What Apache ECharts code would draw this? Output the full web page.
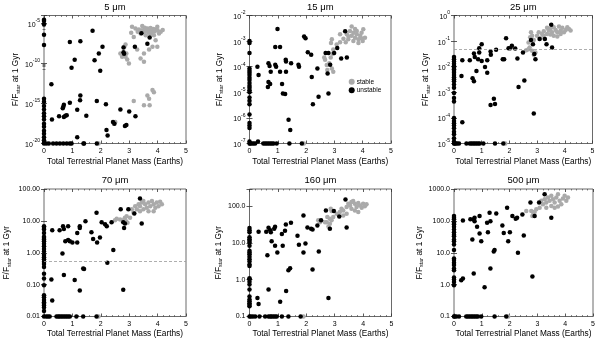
<!DOCTYPE html>
<html>
<head>
<meta charset="utf-8">
<script src="https://cdn.jsdelivr.net/npm/echarts@6/dist/echarts.min.js"></script>
<style>
html,body{margin:0;padding:0;background:#fff;}
#c{width:600px;height:339px;}
</style>
</head>
<body>
<div id="c"></div>
<script>
// ---------------- data ----------------
const titles = ['5 \u03bcm', '15 \u03bcm', '25 \u03bcm', '70 \u03bcm', '160 \u03bcm', '500 \u03bcm'];
const xName = 'Total Terrestrial Planet Mass (Earths)';
const seriesNames = ['stable', 'unstable'];
const limit25 = 0.05;   // dashed line, 25 um panel
const limit70 = 0.55;   // dashed line, 70 um panel

// 5 um
const unstable5 = [
[0,3e-5],[0,2e-5],[0,8e-6],[0,4e-7],[0,2e-8],
[0,4e-15],[0,1.6e-15],[0,5e-16],[0,1.8e-16],[0,6e-17],[0,2.5e-17],[0,1e-17],[0,3e-18],[0,1.2e-18],[0,4e-19],[0,1.6e-19],[0,6e-20],[0,2.5e-20],[0,1.2e-20],[0,1e-20],
[0.91,5e-8],[1.08,3e-10],[0.97,3e-11],[1.28,6e-8],[1.71,1.2e-6],[1.78,2.5e-10],[1.93,1.8e-9],[2.06,1.2e-8],[1.98,1.2e-11],[2.8,1e-8],[2.8,2.5e-9],[2.82,1.6e-9],[3.2,1.2e-8],[3.43,6e-7],[3.72,1.8e-7],[3.64,3e-8],
[0.26,2.5e-13],[0.28,1e-17],[0.53,2.5e-17],[0.68,4e-16],[0.7,7e-16],[0.66,2.5e-16],[0.91,1.2e-15],[0.75,3e-17],[0.8,3.5e-17],[0.7,2e-17],[1.17,1.6e-16],[1.28,1e-14],[1.27,2.5e-15],[1.49,3e-17],[1.17,6e-20],[1.86,2e-15],[2.18,8e-16],[2.2,5e-19],[2.24,1e-19],[2.43,5e-18],[2.48,3e-18],[2.69,1.8e-16],[2.9,2e-18],[2.85,1.5e-18],[3.0,1e-16],[3.22,2.5e-17],
[0.08,1e-20],[0.17,1e-20],[0.32,1e-20],[0.44,1e-20],[0.56,1e-20],[0.68,1e-20],[0.8,1e-20],[0.91,1e-20],[0.97,1e-20],[1.39,1e-20],[1.41,1e-20],[1.86,1e-20]
];
const stable5 = [
[3.10,3.8e-6],[3.22,2.4e-6],[3.34,1.8e-6],[3.46,4.7e-6],[3.52,9e-7],[3.64,2.4e-6],[3.70,1.5e-6],[3.76,5.6e-7],[3.82,9e-7],[3.87,3.5e-7],[3.93,1.8e-6],[3.99,3.8e-6],[4.05,5.6e-7],[4.11,9e-7],[4.18,1.5e-6],
[3.55,3e-6],[3.6,1.2e-6],[3.75,2.8e-6],[3.85,2e-6],[3.9,1.1e-6],[4.0,1.4e-6],[3.68,7e-7],[3.45,1.4e-6],[3.3,9e-7],
[3.93,8e-8],[3.99,1.2e-8],[3.82,1.2e-8],[3.70,5.6e-9],[3.52,1.8e-9],[3.52,1.6e-10],[3.40,4.2e-10],[3.28,5.6e-9],[3.40,5.6e-7],[3.58,3.5e-7],[3.16,2.1e-7],[3.07,6.8e-7],
[2.87,2.3e-8],[2.83,1.2e-8],[2.69,1.8e-9],[2.75,6.8e-10],[2.87,6.8e-10],[2.93,3.2e-10],[2.99,1e-10],[2.9,1.8e-9],
[2.51,5e-18],[2.46,3e-18],[3.16,2e-15],[3.52,6e-16],[3.72,6e-16],[3.64,1e-14],[3.82,5e-14],[3.87,2.5e-14],[3.70,4e-15],[1.92,1e-20]
];

// 15 um
const unstable15 = [
[0,1e-3],[0,8.5e-4],[0,3.4e-4],[0,8.5e-5],[0,7e-5],[0,5.8e-5],[0,4.7e-5],[0,3.7e-5],[0,3e-5],[0,2.3e-5],[0,1.8e-5],[0,1.5e-5],[0,1.2e-5],[0,1e-5],[0,6.3e-6],[0,4.7e-6],[0,3.4e-6],[0,1.35e-6],[0,6.3e-7],[0,5e-7],[0,4e-7],[0,1.2e-7],[0,1e-7],
[0.28,1e-4],[0.32,4.7e-5],[0.67,1.35e-4],[0.71,1.07e-4],[0.75,6.3e-5],[0.67,2.5e-5],[0.73,2.1e-5],[0.65,1.6e-5],[0.91,1.2e-4],[0.94,1e-4],[0.99,3e-3],[0.91,5.9e-4],[1.08,5.9e-4],[1.08,6.3e-5],[1.15,2.1e-5],[1.18,9e-6],[1.26,8.5e-6],[1.28,1.85e-4],[1.29,1.6e-4],[1.29,6.3e-5],[1.38,8.5e-7],[1.44,3.4e-7],[1.47,1.35e-4],[1.73,1.2e-4],[1.75,1e-4],[1.93,1.5e-3],[1.98,1.3e-3],[2.06,3.7e-4],[2.18,2.9e-4],[2.2,4e-5],[2.24,3.4e-6],[2.4,8.5e-5],[2.44,6.7e-6],[2.69,3.4e-4],[2.79,3.4e-4],[2.76,5.4e-5],[2.79,9e-6],[2.85,1.2e-4],[2.99,3.4e-4],[3.1,5.4e-4],[3.24,2.1e-4],[3.44,2.3e-4],[3.38,2.4e-3],[0.3,1.2e-7],
[0.02,1e-7],[0.08,1e-7],[0.14,1e-7],[0.2,1e-7],[0.49,1e-7],[0.55,1e-7],[0.61,1e-7],[0.67,1e-7],[0.73,1e-7],[0.79,1e-7],[0.85,1e-7],[0.96,1e-7],[1.41,1e-7],[1.85,1e-7]
];
const stable15 = [
[3.44,1.85e-3],[3.55,2.5e-3],[3.61,1.6e-3],[3.67,2.1e-3],[3.73,1.35e-3],[3.79,1.85e-3],[3.85,1.17e-3],[3.91,1.6e-3],[3.96,2.1e-3],[4.02,2.9e-3],[4.08,1.35e-3],[4.0,1e-3],[3.85,8.5e-4],[3.67,1e-3],[3.49,1.17e-3],[3.32,1.24e-3],[3.2,9e-4],[3.08,7.4e-4],[2.91,1.17e-3],[2.88,8.5e-4],[2.96,4.7e-4],[2.94,3.2e-4],[2.87,2.3e-4],[2.82,1.35e-4],[2.73,1.17e-4],[2.75,7.4e-5],[2.91,8.5e-5],[2.96,6.3e-5],[3.2,1.85e-3],[3.61,3.7e-3],[3.79,2.5e-3],[3.73,3e-3],[2.64,2.3e-4],[2.67,1.85e-4],
[3.5,1.5e-3],[3.95,1.3e-3],[3.4,9e-4],[1.92,1e-7]
];

// 25 um
const unstable25 = [
[0,2.4e-2],[0,1.95e-2],[0,1.6e-2],[0,1.3e-2],[0,1.07e-2],[0,9e-3],[0,8e-3],[0,6.8e-3],[0,5.8e-3],[0,4.7e-3],[0,3.9e-3],[0,3.2e-3],[0,2.7e-3],[0,2e-3],[0,1.5e-3],[0,9.3e-4],[0,6e-4],[0,4.4e-4],[0,9.8e-5],[0,7.6e-5],[0,6.2e-5],[0,5e-5],[0,3.9e-5],[0,2.9e-5],[0,2.3e-5],[0,1.6e-5],[0,1.2e-5],[0,1e-5],
[0.27,4.3e-3],[0.3,1.8e-2],[0.3,6.8e-5],[0.57,1.8e-2],[0.67,3.5e-3],[0.72,2.7e-3],[0.72,3.3e-2],[0.75,2.4e-2],[0.81,6.8e-3],[0.87,1.95e-2],[0.91,5.3e-2],[0.91,3.6e-2],[1.0,1.67e-2],[1.0,7.6e-2],[1.12,9.7e-3],[1.2,1.8e-2],[1.2,5.8e-3],[1.32,3.9e-2],[1.33,2.9e-2],[1.32,3.2e-4],[1.44,5.6e-4],[1.48,3.5e-4],[1.52,4.6e-2],[1.76,1.95e-2],[1.81,1.95e-2],[1.88,0.128],[1.97,5.3e-2],[2.03,5.3e-2],[2.09,6.6e-2],[2.21,5.1e-2],[2.29,2.1e-2],[2.33,1.6e-3],[2.49,3.6e-2],[2.54,2.9e-3],[2.78,0.11],[2.85,7.6e-2],[2.9,3.1e-2],[2.94,1.95e-2],[2.88,1.5e-4],[3.09,0.12],[3.28,0.12],[3.34,7.6e-2],[3.51,0.44],[3.54,5.6e-2],
[0.02,1e-5],[0.06,1e-5],[0.11,1e-5],[0.18,1e-5],[0.45,1e-5],[0.57,1e-5],[0.63,1e-5],[0.69,1e-5],[0.75,1e-5],[0.81,1e-5],[0.87,1e-5],[0.93,1e-5],[1.06,1e-5],[1.48,1e-5],[1.78,1e-5]
];
const stable25 = [
[2.69,8.9e-2],[2.75,0.14],[2.78,0.22],[2.82,0.16],[2.88,0.11],[2.94,3.6e-2],[2.88,2.9e-2],[2.82,4.2e-2],[3.0,0.16],[3.06,0.22],[3.18,0.19],[3.24,0.16],[3.36,0.33],[3.42,0.26],[3.48,0.3],[3.54,0.22],[3.6,0.35],[3.67,0.27],[3.73,0.22],[3.79,0.37],[3.85,0.26],[3.91,0.33],[3.97,0.22],[4.03,0.27],[4.09,0.35],[4.15,0.3],[4.21,0.26],[3.6,0.16],[3.73,0.15],[3.85,0.19],[3.48,0.18],[3.36,0.19],[3.24,0.24],[3.12,0.13],[2.69,4.8e-2],[2.61,4.4e-2],[2.73,5.6e-2],[1.85,1e-5]
];

// 70 um
const unstable70 = [
[0,6.8],[0,6],[0,5.4],[0,4.2],[0,3.2],[0,2.9],[0,2.6],[0,2.3],[0,1.9],[0,1.6],[0,1.3],[0,1.1],[0,0.85],[0,0.72],[0,0.62],[0,0.52],[0,0.44],[0,0.36],[0,0.22],[0,0.155],[0,0.095],[0,0.046],[0,0.04],[0,0.033],[0,0.028],[0,0.025],[0,0.022],[0,0.019],[0,0.015],[0,0.01],
[0.29,5.1],[0.26,0.145],[0.29,0.032],[0.55,5.1],[0.67,6.8],[0.7,5.6],[0.65,0.95],[0.7,0.2],[0.75,2.3],[0.85,6.8],[0.85,2.5],[0.91,2.3],[1.0,2.1],[1.08,0.14],[1.17,4.2],[1.17,2.1],[1.26,6.8],[1.26,6.0],[1.26,0.066],[1.38,0.32],[1.41,0.31],[1.46,9.8],[1.67,4.4],[1.73,2.7],[1.85,18],[1.87,2.1],[1.97,3.0],[2.03,9.1],[2.15,7.8],[2.21,6.8],[2.23,0.49],[2.44,1.23],[2.38,9.1],[2.7,23],[2.79,9.1],[2.85,8.3],[2.82,6.0],[2.79,0.069],[2.97,23],[3.18,17],[3.38,50],[3.44,8.3],
[0.08,0.01],[0.14,0.01],[0.2,0.01],[0.44,0.01],[0.5,0.01],[0.55,0.01],[0.61,0.01],[0.67,0.01],[0.73,0.01],[0.79,0.01],[0.85,0.01],[0.91,0.01],[1.14,0.01],[1.38,0.01],[1.85,0.01]
];
const stable70 = [
[3.21,29],[3.27,23],[3.33,33],[3.38,29],[3.44,38],[3.5,42],[3.56,33],[3.62,26],[3.68,38],[3.74,29],[3.8,42],[3.86,33],[3.92,26],[3.97,38],[4.03,29],[4.09,40],[4.15,33],[3.86,20],[3.68,20],[3.5,23],[3.38,20],[3.15,18],[3.09,23],[2.91,14],[2.85,12.6],[2.82,11],[2.89,9.8],[2.94,8.7],[3.03,12.6],[2.68,11],[2.56,11.7],[2.5,10.5],[1.92,0.01]
];

// 160 um
const unstable160 = [
[0,25.5],[0,22],[0,19.4],[0,14.2],[0,12.6],[0,11.4],[0,10.3],[0,8.3],[0,6.1],[0,5.5],[0,4.9],[0,4.2],[0,3.6],[0,3.1],[0,2.6],[0,2.35],[0,1.1],[0,1.02],[0,0.88],[0,0.74],[0,0.54],[0,0.35],[0,0.29],[0,0.26],[0,0.23],[0,0.21],[0,0.19],[0,0.1],
[0.28,0.32],[0.32,0.22],[0.32,20],[0.63,4.6],[0.67,0.54],[0.59,20],[0.67,25.7],[0.73,22],[0.75,19.4],[0.78,11],[0.87,24],[0.9,27.5],[0.9,8.3],[0.98,5.5],[1.08,0.25],[1.14,17.4],[1.17,8.3],[1.25,21.4],[1.28,31.6],[1.29,0.49],[1.37,1.8],[1.43,2.05],[1.46,35],[1.69,15.5],[1.74,8.9],[1.9,55],[1.9,5.5],[1.97,9.6],[2.04,26],[2.17,24],[2.22,23],[2.22,1.9],[2.39,29.5],[2.44,5.8],[2.52,41],[2.69,76],[2.78,0.32],[2.83,24],[2.97,73],[3.16,52],[3.38,150],[3.42,26],
[0.05,0.1],[0.12,0.1],[0.2,0.1],[0.35,0.1],[0.55,0.1],[0.67,0.1],[0.73,0.1],[0.78,0.1],[0.84,0.1],[0.9,0.1],[0.96,0.1],[1.14,0.1],[1.37,0.1],[1.8,0.1]
];
const stable160 = [
[3.18,69],[3.24,85],[3.3,76],[3.42,94],[3.48,116],[3.54,104],[3.59,129],[3.65,137],[3.71,116],[3.77,94],[3.83,121],[3.89,104],[3.95,90],[4.0,116],[4.06,98],[4.12,111],[3.59,85],[3.71,76],[3.83,69],[3.42,62],[3.3,55],[3.07,62],[2.95,50],[2.89,41],[2.83,45],[2.74,50],[2.72,36],[2.83,33],[2.66,36],[2.78,28],[2.86,85],[2.89,73],[2.48,36],[2.42,41],[1.9,0.1]
];

// 500 um
const unstable500 = [
[0,141],[0,125],[0,112],[0,87],[0,78],[0,65],[0,54],[0,44],[0,37],[0,33],[0,26],[0,23],[0,18],[0,12.3],[0,6.6],[0,5.9],[0,4.9],[0,4.1],[0,3.2],[0,2.8],[0,1.66],[0,1.44],[0,1.2],[0,0.95],[0,0.1],
[0.26,1.38],[0.32,1.55],[0.32,102],[0.59,112],[0.66,26],[0.71,2.24],[0.71,112],[0.74,125],[0.74,98],[0.83,65],[0.92,141],[0.92,40],[0.98,23],[1.1,0.83],[1.19,87],[1.22,44],[1.28,181],[1.31,98],[1.31,3.2],[1.43,11],[1.46,12.3],[1.52,170],[1.74,71],[1.79,42],[1.91,260],[1.95,23],[2.01,44],[2.1,141],[2.22,117],[2.27,125],[2.3,10],[2.46,158],[2.51,35],[2.75,380],[2.82,1.8],[2.9,141],[3.06,380],[3.26,690],[3.5,125],
[0.02,0.1],[0.08,0.1],[0.18,0.1],[0.44,0.1],[0.5,0.1],[0.56,0.1],[0.62,0.1],[0.68,0.1],[0.74,0.1],[0.8,0.1],[0.86,0.1],[0.98,0.1],[1.46,0.1],[1.88,0.1]
];
const stable500 = [
[3.14,425],[3.2,330],[3.26,480],[3.32,380],[3.38,540],[3.44,425],[3.5,610],[3.56,480],[3.62,380],[3.68,540],[3.74,690],[3.8,425],[3.86,330],[3.92,500],[3.98,610],[4.04,425],[4.1,540],[3.62,260],[3.74,280],[3.5,295],[3.32,260],[3.08,260],[2.84,190],[2.78,205],[2.9,190],[2.96,230],[2.6,205],[2.82,141],[1.95,0.1]
];

// ---------------- layout / styling ----------------
const FONT = '"Liberation Sans", Arial, Helvetica, sans-serif';
const grids = [
  {left: 44,    top: 15.5, width: 142,   height: 128},
  {left: 249.5, top: 15.5, width: 141.5, height: 128},
  {left: 454,   top: 15.5, width: 138.5, height: 128},
  {left: 44,    top: 189,  width: 142,   height: 127.5},
  {left: 249.5, top: 189,  width: 142,   height: 127.5},
  {left: 454,   top: 189,  width: 139,   height: 127.5}
];
const yCfg = [
  {min: 1e-20, max: 1e-4,  interval: 5, fmt: 'pow', gap: 22, minor: true},
  {min: 1e-7,  max: 1e-2,  interval: 1, fmt: 'pow', gap: 25},
  {min: 1e-5,  max: 1,     interval: 1, fmt: 'pow', gap: 23},
  {min: 0.01,  max: 100,   interval: 1, fmt: 2,     gap: 32},
  {min: 0.1,   max: 290,   interval: 1, fmt: 1,     gap: 26},
  {min: 0.1,   max: 1000,  interval: 1, fmt: 1,     gap: 22}
];
const panels = [
  [stable5, unstable5], [stable15, unstable15], [stable25, unstable25],
  [stable70, unstable70], [stable160, unstable160], [stable500, unstable500]
];
const limits = [null, null, limit25, limit70, null, null];

function isPow10(v) {
  const l = Math.log10(v);
  return Math.abs(l - Math.round(l)) < 1e-6;
}
function makeFormatter(fmt) {
  return function (v) {
    if (!isPow10(v)) return '';
    if (fmt === 'pow') return '{b|10}{e|' + Math.round(Math.log10(v)) + '}';
    return Number(v).toFixed(fmt);
  };
}
const labelRich = {
  b: {fontSize: 7, fontFamily: FONT, color: '#000', lineHeight: 10, verticalAlign: 'bottom'},
  e: {fontSize: 5, fontFamily: FONT, color: '#000', lineHeight: 6, verticalAlign: 'top'}
};
const nameRich = {
  a: {fontSize: 8.3, fontFamily: FONT, color: '#000', lineHeight: 9, verticalAlign: 'top'},
  s: {fontSize: 5.5, fontFamily: FONT, color: '#000', lineHeight: 6, verticalAlign: 'bottom', padding: [5, 0, 0, 0]}
};

const xAxes = [], yAxes = [], series = [], titleArr = [];
grids.forEach((g, i) => {
  const xBase = {
    type: 'value', gridIndex: i, min: 0, max: 5, interval: 1,
    axisLine: {show: false}, splitLine: {show: false},
    axisTick: {show: true, inside: true, length: 3, lineStyle: {color: '#333', width: 0.8}},
    minorTick: {show: true, splitNumber: 5, length: 1.5, lineStyle: {color: '#333', width: 0.6}}
  };
  xAxes.push(Object.assign({}, xBase, {
    position: 'bottom',
    axisLabel: {show: true, fontSize: 7, fontFamily: FONT, color: '#000', margin: 4},
    name: xName, nameLocation: 'middle', nameGap: i < 3 ? 14.5 : 13,
    nameTextStyle: {fontSize: 8.3, fontFamily: FONT, color: '#000'}
  }));
  const c = yCfg[i];
  const yBase = {
    type: 'log', logBase: 10, gridIndex: i, min: c.min, max: c.max, interval: c.interval,
    axisLine: {show: false}, splitLine: {show: false},
    axisTick: {show: true, inside: true, length: 3, lineStyle: {color: '#333', width: 0.8}},
    minorTick: {show: !!c.minor, splitNumber: 5, length: 1.5, lineStyle: {color: '#333', width: 0.6}}
  };
  yAxes.push(Object.assign({}, yBase, {
    position: 'left',
    axisLabel: {show: true, margin: 4, formatter: makeFormatter(c.fmt), rich: labelRich,
                fontSize: 7, fontFamily: FONT, color: '#000'},
    name: '{a|F/F}{s|star}{a| at 1 Gyr}', nameLocation: 'middle', nameGap: c.gap,
    nameTextStyle: {rich: nameRich, fontSize: 8.3, fontFamily: FONT, color: '#000'}
  }));
  titleArr.push({
    text: titles[i], left: g.left + g.width / 2, top: i < 3 ? 2 : 175.5,
    textAlign: 'center', padding: 0,
    textStyle: {fontSize: 9.5, fontWeight: 'normal', fontFamily: FONT, color: '#000'}
  });
  const [st, un] = panels[i];
  const s1 = {
    type: 'scatter', name: seriesNames[0], data: st, xAxisIndex: i, yAxisIndex: i,
    symbol: 'circle', symbolSize: 4.5, itemStyle: {color: '#aaaaaa', opacity: 1}, clip: false, silent: true, z: 2
  };
  if (limits[i] != null) {
    s1.markLine = {
      silent: true, symbol: 'none', label: {show: false}, animation: false,
      lineStyle: {type: [3, 2], color: '#999', width: 0.8},
      data: [{yAxis: limits[i]}]
    };
  }
  series.push(s1);
  series.push({
    type: 'scatter', name: seriesNames[1], data: un, xAxisIndex: i, yAxisIndex: i,
    symbol: 'circle', symbolSize: 4.5, itemStyle: {color: '#000', opacity: 1}, clip: false, silent: true, z: 3
  });
});
// mirror axes (top / right ticks)
grids.forEach((g, i) => {
  xAxes.push({
    type: 'value', gridIndex: i, min: 0, max: 5, interval: 1, position: 'top',
    axisLine: {show: false}, splitLine: {show: false}, axisLabel: {show: false},
    axisTick: {show: true, inside: true, length: 3, lineStyle: {color: '#333', width: 0.8}},
    minorTick: {show: true, splitNumber: 5, length: 1.5, lineStyle: {color: '#333', width: 0.6}}
  });
  const c = yCfg[i];
  yAxes.push({
    type: 'log', logBase: 10, gridIndex: i, min: c.min, max: c.max, interval: c.interval, position: 'right',
    axisLine: {show: false}, splitLine: {show: false}, axisLabel: {show: false},
    axisTick: {show: true, inside: true, length: 3, lineStyle: {color: '#333', width: 0.8}},
    minorTick: {show: !!c.minor, splitNumber: 5, length: 1.5, lineStyle: {color: '#333', width: 0.6}}
  });
});

const chart = echarts.init(document.getElementById('c'), null, {renderer: 'canvas'});
chart.setOption({
  animation: false,
  backgroundColor: '#fff',
  title: titleArr,
  grid: grids.map(g => Object.assign({show: true, borderColor: '#444', borderWidth: 0.8, backgroundColor: 'transparent'}, g)),
  xAxis: xAxes,
  yAxis: yAxes,
  legend: {
    data: seriesNames, orient: 'vertical', left: 348.7, top: 78.3, padding: 0,
    itemWidth: 6, itemHeight: 6, itemGap: 1.4, icon: 'circle', selectedMode: false,
    textStyle: {fontSize: 6.5, fontFamily: FONT, color: '#000', padding: [0, 0, 0, -3]}
  },
  series: series
});
</script>
</body>
</html>
